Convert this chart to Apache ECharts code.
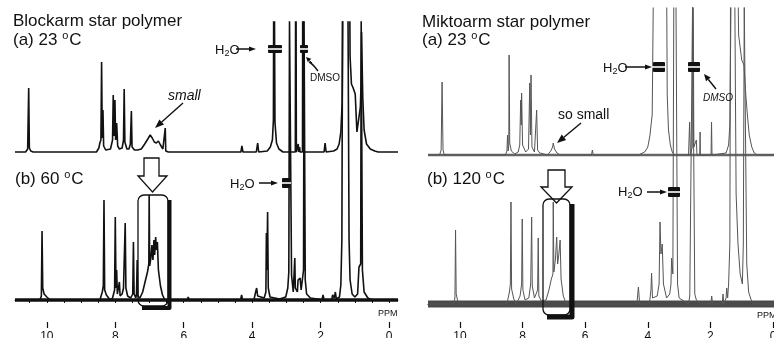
<!DOCTYPE html>
<html>
<head>
<meta charset="utf-8">
<script src="https://cdn.jsdelivr.net/npm/echarts@6/dist/echarts.min.js"></script>
<style>
  html, body { margin: 0; padding: 0; background: #fff; }
  #chart { width: 774px; height: 338px; }
</style>
</head>
<body>
<div id="chart"></div>
<script>
// 1H NMR traces, [ppm, intensity] (off-scale peaks just run past the top)
const blockA = [
  [10.93, 0], [10.62, 0], [10.56, 3], [10.53, 64], [10.51, 4], [10.47, 1], [10.4, 0],
  [8.55, 0], [8.48, 4], [8.45, 9], [8.42, 12], [8.4, 90], [8.38, 14], [8.36, 42], [8.34, 6], [8.28, 2],
  [8.14, 3], [8.08, 12], [8.06, 57], [8.04, 16], [8.01, 52], [7.99, 12], [7.96, 29], [7.93, 6], [7.88, 3],
  [7.8, 4], [7.76, 12], [7.74, 63], [7.72, 10], [7.66, 3],
  [7.6, 3], [7.56, 8], [7.53, 41], [7.51, 5], [7.44, 2], [7.35, 2],
  [7.24, 3], [7.14, 8], [7.05, 13], [6.98, 17], [6.92, 14], [6.86, 10], [6.8, 9], [6.74, 11], [6.68, 7], [6.61, 3],
  [6.555, 2], [6.54, 24], [6.525, 1], [6.45, 0],
  [4.33, 0], [4.3, 6], [4.27, 0],
  [3.88, 0], [3.84, 9], [3.81, 0],
  [3.56, 1], [3.47, 5], [3.41, 12], [3.38, 32], [3.365, 260], [3.35, 260], [3.335, 30], [3.29, 9], [3.22, 3], [3.1, 0],
  [2.74, 0], [2.725, 260], [2.71, 0],
  [2.67, 0], [2.655, 8], [2.64, 0], [2.615, 5], [2.6, 0],
  [2.53, 0], [2.52, 260], [2.5, 260], [2.49, 0],
  [1.9, 0], [1.87, 9], [1.84, 0],
  [1.62, 1], [1.52, 3], [1.46, 8], [1.41, 20], [1.37, 50], [1.34, 260], [1.28, 260], [1.24, 260], [1.17, 260],
  [1.14, 95], [1.1, 68], [1.05, 64], [0.99, 58], [0.94, 20], [0.9, 18], [0.84, 45], [0.82, 67], [0.805, 120],
  [0.79, 122], [0.77, 55], [0.73, 22], [0.66, 8], [0.55, 3], [0.42, 1], [0.32, 0], [-0.26, 0]
];
const blockB = [
  [10.93, 0], [10.2, 0], [10.16, 4], [10.14, 69], [10.12, 12], [10.08, 6], [10.0, 3], [9.9, 0],
  [8.45, 0], [8.38, 8], [8.35, 14], [8.33, 100], [8.31, 10], [8.26, 5], [8.15, 0],
  [8.08, 2], [8.02, 10], [8.0, 83], [7.98, 12], [7.96, 30], [7.94, 6], [7.88, 18], [7.86, 4], [7.8, 6],
  [7.76, 12], [7.73, 14], [7.71, 77], [7.69, 12], [7.64, 4],
  [7.55, 2], [7.49, 6], [7.47, 58], [7.45, 6], [7.4, 2], [7.38, 6], [7.36, 40], [7.34, 4], [7.28, 2],
  [7.2, 8], [7.13, 18], [7.06, 28], [7.02, 36], [7.01, 105], [6.995, 34], [6.96, 42], [6.93, 55], [6.9, 40],
  [6.87, 60], [6.85, 45], [6.82, 63], [6.8, 50], [6.77, 58], [6.74, 30], [6.68, 14], [6.62, 5], [6.55, 0],
  [5.9, 0], [5.87, 3], [5.84, 0],
  [4.34, 0], [4.31, 5], [4.28, 0],
  [3.95, 0], [3.9, 8], [3.87, 12], [3.84, 4], [3.65, 2],
  [3.6, 8], [3.585, 67], [3.57, 30], [3.55, 88], [3.53, 12], [3.48, 3], [3.2, 1],
  [3.02, 3], [2.96, 12], [2.93, 28], [2.91, 280], [2.87, 280], [2.85, 25], [2.8, 8], [2.77, 10], [2.755, 42], [2.74, 12],
  [2.68, 8], [2.66, 20], [2.63, 22], [2.6, 22], [2.57, 10], [2.5, 30], [2.485, 280], [2.465, 280], [2.45, 20],
  [2.41, 6], [2.37, 4], [2.3, 2], [2.1, 1],
  [1.96, 0], [1.93, 5], [1.9, 0], [1.68, 0], [1.65, 5], [1.6, 2], [1.57, 8], [1.54, 1],
  [1.45, 3], [1.41, 15], [1.38, 60], [1.36, 280], [1.2, 280], [1.17, 60], [1.14, 20], [1.08, 6], [1.0, 3],
  [0.92, 6], [0.88, 33], [0.83, 36], [0.815, 280], [0.795, 280], [0.78, 30], [0.73, 8], [0.62, 2], [0.5, 0], [-0.26, 0]
];
const miktoA = [
  [11.02, 0], [10.65, 0], [10.6, 5], [10.57, 73], [10.54, 5], [10.5, 0],
  [8.55, 0], [8.5, 4], [8.48, 20], [8.46, 4], [8.44, 10], [8.43, 100], [8.41, 12], [8.36, 4], [8.25, 1],
  [8.14, 3], [8.09, 10], [8.06, 55], [8.04, 30], [8.03, 62], [8.0, 10], [7.9, 3],
  [7.81, 6], [7.77, 72], [7.75, 20], [7.73, 80], [7.7, 8], [7.62, 3],
  [7.58, 5], [7.55, 45], [7.52, 5], [7.45, 2], [7.2, 0],
  [7.1, 4], [7.04, 8], [7.02, 12], [6.98, 6], [6.9, 2], [6.8, 0],
  [5.8, 0], [5.77, 5], [5.74, 0],
  [4.3, 0], [4.1, 3], [4.0, 8], [3.93, 20], [3.89, 32], [3.86, 40], [3.78, 300], [3.42, 300], [3.38, 60],
  [3.34, 25], [3.28, 10], [3.22, 3], [3.15, 0],
  [2.7, 0], [2.665, 33], [2.64, 0], [2.58, 8], [2.565, 300], [2.545, 300], [2.53, 8], [2.45, 15], [2.43, 0],
  [2.34, 0], [2.33, 23], [2.32, 0],
  [1.98, 0], [1.965, 33], [1.95, 0],
  [1.5, 2], [1.42, 10], [1.38, 30], [1.3, 300], [1.17, 300], [1.1, 120], [1.0, 95], [0.93, 90], [0.9, 92],
  [0.87, 60], [0.82, 40], [0.76, 20], [0.68, 8], [0.6, 2], [0.5, 0], [-0.03, 0]
];
const miktoB = [
  [11.02, 0], [10.2, 0], [10.16, 6], [10.14, 74], [10.12, 10], [10.05, 0],
  [8.5, 0], [8.42, 12], [8.39, 20], [8.37, 102], [8.35, 15], [8.28, 5], [8.2, 0],
  [8.08, 8], [8.03, 20], [8.01, 85], [7.99, 14], [7.92, 4],
  [7.8, 6], [7.74, 20], [7.71, 87], [7.69, 18], [7.62, 6],
  [7.56, 6], [7.52, 14], [7.5, 66], [7.48, 8], [7.4, 3],
  [7.25, 4], [7.15, 15], [7.08, 25], [7.03, 30], [7.02, 102], [7.0, 32], [6.95, 45], [6.91, 67], [6.88, 40],
  [6.84, 50], [6.8, 64], [6.77, 25], [6.7, 8], [6.6, 0],
  [4.35, 0], [4.3, 17], [4.26, 0],
  [3.95, 0], [3.9, 14], [3.88, 31], [3.85, 6], [3.7, 8],
  [3.64, 20], [3.61, 82], [3.58, 50], [3.54, 60], [3.5, 20], [3.4, 6], [3.3, 10], [3.26, 20], [3.24, 46],
  [3.2, 30], [3.17, 300], [3.1, 300], [3.05, 20], [3.0, 6], [2.8, 2],
  [2.7, 0], [2.66, 8], [2.6, 10], [2.57, 300], [2.53, 300], [2.5, 10], [2.45, 4], [2.3, 0],
  [1.99, 0], [1.96, 8], [1.93, 0],
  [1.62, 0], [1.6, 10], [1.57, 0], [1.5, 6], [1.48, 16], [1.45, 6],
  [1.42, 20], [1.38, 60], [1.36, 300], [1.22, 300], [1.18, 110], [1.12, 60], [1.05, 30], [0.98, 20],
  [0.95, 60], [0.92, 300], [0.87, 300], [0.84, 40], [0.78, 12], [0.7, 4], [0.6, 0], [-0.03, 0]
];
const minorTicks = [10.5, 10, 9.5, 9, 8.5, 8, 7.5, 7, 6.5, 6, 5.5, 5, 4.5, 4, 3.5, 3, 2.5, 2, 1.5, 1, 0.5, 0];
const majorTicks = [10, 8, 6, 4, 2, 0];

const FONT = '"Liberation Sans", Arial, sans-serif';
const INK = '#111';

const chart = echarts.init(document.getElementById('chart'));

// grids: 0 = blockarm (a), 1 = blockarm (b), 2 = miktoarm (a), 3 = miktoarm (b)
const grids = [
  { left: 15, width: 383, top: 22, height: 135 },
  { left: 15, width: 383, top: 22, height: 300 },
  { left: 428, width: 346, top: 8, height: 152 },
  { left: 428, width: 346, top: 8, height: 314 }
].map(g => Object.assign(g, { outerBoundsMode: 'none', containLabel: false }));
const yRange = [[-5, 130], [-22, 278], [-5, 147], [-18, 296]];
const xRange = [[-0.26, 10.93], [-0.26, 10.93], [-0.03, 11.02], [-0.03, 11.02]];

function xAxis(grid, opts) {
  return Object.assign({
    type: 'value', gridIndex: grid, inverse: true,
    min: xRange[grid][0], max: xRange[grid][1],
    show: false, splitLine: { show: false }
  }, opts || {});
}
const shown = (grid) => xAxis(grid, {
  show: true, position: 'bottom',
  axisLine: { lineStyle: { color: INK, width: 1 } },
  axisTick: { customValues: minorTicks, length: 3, lineStyle: { color: INK } },
  axisLabel: { show: false }
});
const major = (grid) => xAxis(grid, {
  show: true, position: 'bottom',
  axisLine: { show: false },
  axisTick: { customValues: majorTicks, length: 6, lineStyle: { color: INK, width: 1.2 } },
  axisLabel: { customValues: majorTicks, color: INK, fontSize: 12, fontFamily: FONT, margin: 9 }
});

function spectrum(data, i, color, width) {
  return {
    type: 'line', xAxisIndex: i, yAxisIndex: i, data: data,
    symbol: 'none', showSymbol: false, clip: true, z: 3,
    lineStyle: { color: color, width: width }
  };
}
// noisy baselines shown as a band of the noise thickness
function band(i, color, width) {
  return {
    type: 'line', xAxisIndex: i, yAxisIndex: i,
    data: [[xRange[i][1], 0], [xRange[i][0], 0]],
    symbol: 'none', showSymbol: false, z: 2,
    lineStyle: { color: color, width: width }
  };
}

// ---- annotations ----
function text(x, y, str, size, extra) {
  return {
    type: 'text', x: x, y: y, z: 10,
    style: Object.assign({ text: str, font: size + 'px ' + FONT, fill: INK, textVerticalAlign: 'middle' }, extra || {})
  };
}
function temp(x, y, label) {
  return {
    type: 'text', x: x, y: y, z: 10,
    style: {
      text: '{a|' + label + ' }{s|o}{a|C}', textVerticalAlign: 'middle',
      rich: {
        a: { fontSize: 17, fontFamily: FONT, fill: INK },
        s: { fontSize: 11, fontFamily: FONT, fill: INK, padding: [0, 1, 9, 0] }
      }
    }
  };
}
function water(x, y) {
  return {
    type: 'text', x: x, y: y, z: 10,
    style: {
      text: '{a|H}{b|2}{a|O}', textVerticalAlign: 'middle',
      rich: {
        a: { fontSize: 13, fontFamily: FONT, fill: INK },
        b: { fontSize: 9, fontFamily: FONT, fill: INK, padding: [7, 0, 0, 0] }
      }
    }
  };
}
function arrow(x1, y1, x2, y2, w, L, W) {
  const a = Math.atan2(y2 - y1, x2 - x1);
  const bx = x2 - L * Math.cos(a), by = y2 - L * Math.sin(a);
  return [
    { type: 'line', z: 10, shape: { x1: x1, y1: y1, x2: bx, y2: by }, style: { stroke: INK, lineWidth: w } },
    { type: 'polygon', z: 10, shape: { points: [[x2, y2], [bx + W * Math.sin(a), by - W * Math.cos(a)], [bx - W * Math.sin(a), by + W * Math.cos(a)]] }, style: { fill: INK } }
  ];
}
function brk(x, y, w, h) {
  return [
    { type: 'rect', z: 11, shape: { x: x, y: y, width: w, height: h, r: 1 }, style: { fill: INK } },
    { type: 'rect', z: 12, shape: { x: x - 1, y: y + h / 2 - 0.8, width: w + 2, height: 1.6 }, style: { fill: '#fff' } }
  ];
}
function openArrow(pts) {
  return { type: 'polygon', z: 10, shape: { points: pts }, style: { fill: '#fff', stroke: INK, lineWidth: 1.3 } };
}
function box(x, y, w, h, sy, sw) {
  return [
    { type: 'polyline', z: 9, shape: { points: [[x + w + sw / 2 - 0.5, y + 5], [x + w + sw / 2 - 0.5, y + h + sy], [x + 4, y + h + sy]] },
      style: { stroke: INK, lineWidth: sw, lineJoin: 'round' } },
    { type: 'rect', z: 10, shape: { x: x, y: y, width: w, height: h, r: 6 }, style: { fill: 'none', stroke: INK, lineWidth: 1.3 } }
  ];
}

const graphics = [].concat(
  // blockarm
  text(13, 21, 'Blockarm star polymer', 17),
  temp(13, 40, '(a) 23'),
  temp(15, 179, '(b) 60'),
  water(215, 50), arrow(236, 49, 256, 49, 1.5, 7, 2.5), brk(268, 45, 14, 8),
  brk(300, 45, 8, 8),
  text(310, 78, 'DMSO', 10),
  { type: 'bezierCurve', z: 10, shape: { x1: 318, y1: 71, x2: 309, y2: 62, cpx1: 312, cpy1: 63 }, style: { stroke: INK, lineWidth: 1.4, fill: 'none' } },
  arrow(312, 63, 306, 57, 1, 5, 2.5),
  text(168, 96, 'small', 14, { font: 'italic 14px ' + FONT }),
  arrow(183, 103, 155, 128, 1.4, 9, 3.5),
  openArrow([[144, 158], [159, 158], [159, 176], [167, 176], [152.5, 192], [138, 176], [144, 176]]),
  box(138, 195, 30, 111, 2, 4),
  water(230, 184), arrow(259, 183, 278, 183, 1.5, 7, 2.5), brk(282, 178, 8, 10),
  text(378, 314, 'PPM', 9),
  { type: 'rect', z: 10, shape: { x: 344, y: 319, width: 7, height: 6 }, style: { fill: '#fff' } },
  // miktoarm
  text(422, 22, 'Miktoarm star polymer', 17),
  temp(422, 40, '(a) 23'),
  temp(427, 179, '(b) 120'),
  water(603, 68), arrow(625, 67, 652, 67, 1.5, 7, 2.5), brk(653, 62, 12, 10),
  brk(688, 62, 12, 10),
  text(703, 98, 'DMSO', 10, { font: 'italic 10px ' + FONT }),
  arrow(716, 89, 704, 74, 1.4, 7, 3),
  text(558, 115, 'so small', 14),
  arrow(581, 123, 557, 143, 1.4, 9, 3.5),
  openArrow([[548, 170], [565, 170], [565, 187], [572, 187], [556.5, 203], [541, 187], [548, 187]]),
  box(543, 199, 27, 116, 2, 5),
  water(618, 192), arrow(647, 192, 667, 192, 1.5, 7, 2.5), brk(668, 187, 12, 10),
  text(757, 316, 'PPM', 9)
);

chart.setOption({
  animation: false,
  backgroundColor: '#fff',
  grid: grids,
  xAxis: [xAxis(0), shown(1), xAxis(2), shown(3), major(1), major(3)],
  yAxis: grids.map((g, i) => ({
    type: 'value', gridIndex: i, show: false, min: yRange[i][0], max: yRange[i][1], splitLine: { show: false }
  })),
  series: [
    band(1, INK, 3.5),
    band(2, '#666', 2.5),
    band(3, '#4a4a4a', 7),
    spectrum(blockA, 0, INK, 1.6),
    spectrum(blockB, 1, INK, 1.6),
    spectrum(miktoA, 2, '#555', 1),
    spectrum(miktoB, 3, '#555', 1)
  ],
  graphic: graphics
});
</script>
</body>
</html>
